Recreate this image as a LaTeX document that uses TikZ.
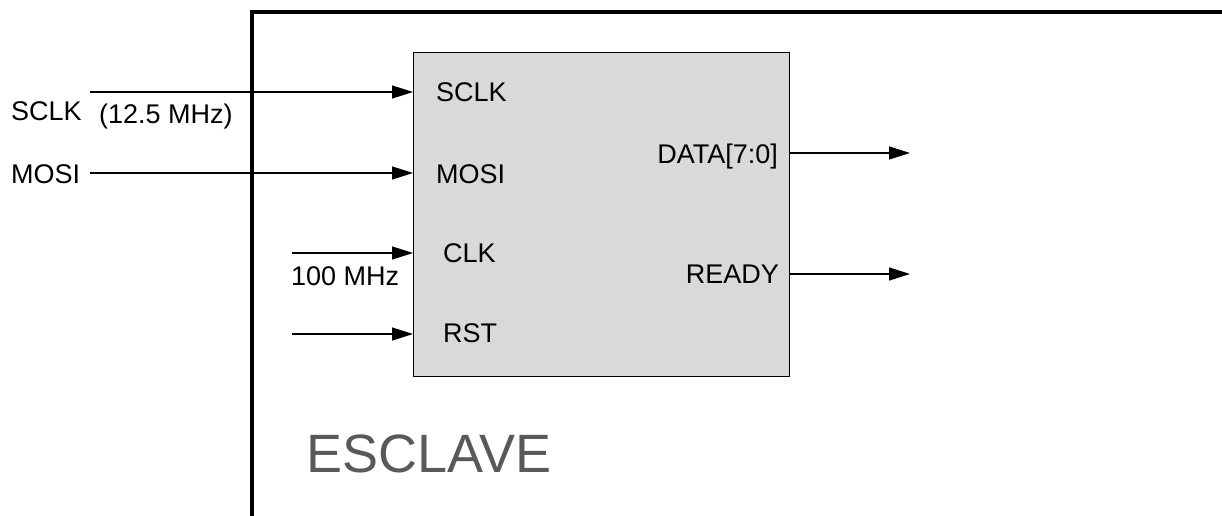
\documentclass[tikz,border=0pt]{standalone}
\usepackage{fontspec}
\setmainfont{Liberation Sans}
\usetikzlibrary{arrows.meta}
\definecolor{blockfill}{HTML}{D9D9D9}
\definecolor{titlegray}{HTML}{595959}
\tikzset{
  sig/.style={line width=1.3pt, -{Triangle[length=21pt,width=13pt]}},
  lbl/.style={inner sep=0pt, font=\fontsize{27}{31}\selectfont},
  frame/.style={line width=4pt},
  block/.style={draw, line width=1.3pt, fill=blockfill, inner sep=0pt}
}
\begin{document}
\begin{tikzpicture}[x=1pt, y=-1pt]
\useasboundingbox (0,0) rectangle (1222,516);
% enclosing module outline
\draw[frame] (252,520) -- (252,12.3) -- (1226,12.3);
% the receiver block
\node[block, minimum width=376pt, minimum height=324pt, anchor=north west] (slave) at (413,52) {};
% signal sources and sinks
\coordinate (sclkin) at (90,92);
\coordinate (mosiin) at (90,173);
\coordinate (clkin) at (292,253);
\coordinate (rstin) at (292,334);
\coordinate (dataout) at (910,153);
\coordinate (readyout) at (910,274);
\draw[sig] (sclkin) -- (sclkin -| slave.west);
\draw[sig] (mosiin) -- (mosiin -| slave.west);
\draw[sig] (clkin) -- (clkin -| slave.west);
\draw[sig] (rstin) -- (rstin -| slave.west);
\draw[sig] (dataout -| slave.east) -- (dataout);
\draw[sig] (readyout -| slave.east) -- (readyout);
% external labels
\node[lbl, anchor=base west] (sclklbl) at (11,121) {SCLK};
\node[lbl, anchor=base west] (sclkfreq) at (99,124) {(12.5 MHz)};
\node[lbl, anchor=base west] (mosilbl) at (11,183) {MOSI};
\node[lbl, anchor=base west] (clkfreq) at (291,285) {100 MHz};
% port labels
\node[lbl, anchor=base west] (psclk) at (436,102) {SCLK};
\node[lbl, anchor=base west] (pmosi) at (436,183) {MOSI};
\node[lbl, anchor=base west] (pclk) at (443,262) {CLK};
\node[lbl, anchor=base west] (prst) at (443,342) {RST};
\node[lbl, anchor=base east] (pdata) at (778,163) {DATA[7:0]};
\node[lbl, anchor=base east] (pready) at (779,283) {READY};
% module name
\node[inner sep=0pt, anchor=base west, text=titlegray, font=\fontsize{54}{62}\selectfont] (title) at (306,472) {ESCLAVE};
\end{tikzpicture}
\end{document}
